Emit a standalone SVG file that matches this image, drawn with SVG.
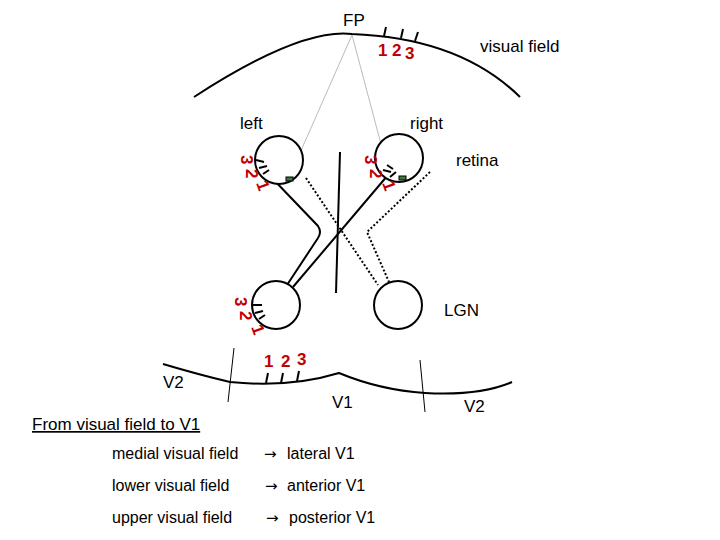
<svg xmlns="http://www.w3.org/2000/svg" width="720" height="540" viewBox="0 0 720 540">
<style>
text{font-family:"Liberation Sans",Arial,sans-serif;fill:#000}
.r{fill:#c00000;font-weight:bold;font-size:17px}
.l{font-size:17px}
.a{font-family:"DejaVu Sans",sans-serif;font-size:15px}
.k{stroke:#000;stroke-width:2;fill:none}
.t{stroke:#000;stroke-width:2}
.c{stroke:#000;stroke-width:2;fill:#fff}
.d{stroke:#000;stroke-width:2;fill:none;stroke-dasharray:2 2}
</style>
<rect width="720" height="540" fill="#fff"/>
<g id="field">
<path class="k" d="M194,97 Q300,28 352,34 Q460,38 520,97"/>
<line class="t" x1="384" y1="36" x2="386" y2="27"/><line class="t" x1="401" y1="38" x2="403" y2="29"/><line class="t" x1="415" y1="41" x2="418" y2="32"/>
<text x="343" y="26" class="l">FP</text>
<text x="480" y="52" class="l">visual field</text>
<text x="378" y="56" class="r">1</text><text x="392" y="56" class="r">2</text><text x="405" y="59" class="r">3</text>
</g>
<g id="sightlines" stroke="#aaa" stroke-width="0.8">
<line x1="352" y1="35" x2="288" y2="180"/><line x1="352" y1="35" x2="390" y2="178"/>
</g>
<text x="240" y="129" class="l" font-size="16">left</text>
<text x="410" y="129" class="l" font-size="16">right</text>
<text x="456" y="166" class="l">retina</text>
<text x="444" y="316" class="l">LGN</text>
<g id="connectors">
<path class="k" d="M272,178 L318,226 Q322,232 318,238 L287,285"/>
<path class="k" d="M388,175 L293,287"/>
<path class="d" d="M306,178 L378,285"/>
<path class="d" d="M430,172 L367,232 L389,282"/>
<line class="t" x1="340" y1="152" x2="336" y2="293"/>
</g>
<g id="retina-left">
<circle class="c" cx="279" cy="160" r="24"/>
<line class="t" x1="256" y1="160" x2="264" y2="162"/><line class="t" x1="259" y1="168" x2="267" y2="166"/><line class="t" x1="263" y1="174" x2="269" y2="170"/>
<rect x="286" y="177" width="7" height="4" fill="#3a7a3a" stroke="#000"/>
<text class="r" transform="translate(241,155) rotate(90)">3</text>
<text class="r" transform="translate(246,169) rotate(90)">2</text>
<text class="r" transform="translate(256,183) rotate(70)">1</text>
</g>
<g id="retina-right">
<circle class="c" cx="399" cy="158" r="24"/>
<line class="t" x1="387" y1="165" x2="393" y2="169"/><line class="t" x1="383" y1="170" x2="391" y2="172"/><line class="t" x1="390" y1="177" x2="396" y2="172"/>
<rect x="399" y="176" width="7" height="4" fill="#3a7a3a" stroke="#000"/>
<text class="r" transform="translate(365,155) rotate(90)">3</text>
<text class="r" transform="translate(370,169) rotate(90)">2</text>
<text class="r" transform="translate(382,183) rotate(70)">1</text>
</g>
<g id="lgn-left">
<circle class="c" cx="276" cy="305" r="24"/>
<line class="t" x1="252" y1="305" x2="262" y2="305"/><line class="t" x1="255" y1="313" x2="263" y2="311"/><line class="t" x1="259" y1="319" x2="265" y2="315"/>
<text class="r" transform="translate(235,297) rotate(90)">3</text>
<text class="r" transform="translate(240,311) rotate(90)">2</text>
<text class="r" transform="translate(251,327) rotate(70)">1</text>
</g>
<g id="lgn-right"><circle class="c" cx="398" cy="305" r="24"/></g>
<g id="cortex">
<path class="k" d="M163,364 Q200,375 230,382 Q290,388 339,373 Q380,390 425,393 Q480,396 512,382"/>
<line stroke="#000" x1="234" y1="348" x2="228" y2="402"/>
<line stroke="#000" x1="420" y1="360" x2="425" y2="412"/>
<line class="t" x1="266" y1="383" x2="268" y2="373"/><line class="t" x1="281" y1="383" x2="283" y2="373"/><line class="t" x1="297" y1="381" x2="299" y2="371"/>
<text x="264" y="367" class="r">1</text><text x="281" y="367" class="r">2</text><text x="297" y="365" class="r">3</text>
<text x="163" y="388" class="l" font-size="18">V2</text>
<text x="332" y="408" class="l" font-size="18">V1</text>
<text x="464" y="412" class="l" font-size="18">V2</text>
</g>
<g id="legend" font-size="16">
<text x="32" y="430" class="l" text-decoration="underline">From visual field to V1</text>
<text x="112" y="459">medial visual field</text><text x="264" y="459" class="a">→</text><text x="287" y="459">lateral V1</text>
<text x="112" y="491">lower visual field</text><text x="265" y="491" class="a">→</text><text x="287" y="491">anterior V1</text>
<text x="112" y="523">upper visual field</text><text x="266" y="523" class="a">→</text><text x="289" y="523">posterior V1</text>
</g>
</svg>
